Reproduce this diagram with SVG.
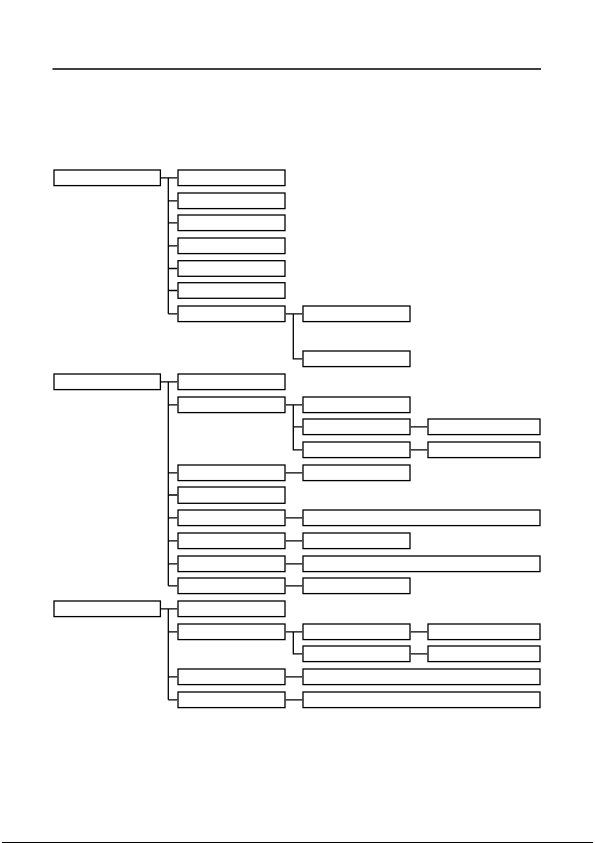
<svg xmlns="http://www.w3.org/2000/svg" width="595" height="843" viewBox="0 0 595 843">
<style>
rect{fill:#fff;stroke:#000;stroke-width:1.3}
.c path,.rule{fill:none;stroke:#000;stroke-width:1.3}
.r{width:107px;height:15.6px}
</style>
<rect width="595" height="843" style="stroke:none;fill:#fff"/>
<line class="rule" x1="52.5" y1="69" x2="541" y2="69"/>
<line class="rule" x1="2" y1="842.5" x2="593" y2="842.5" style="stroke-width:1"/>
<g class="c">
<path d="M161 177.8H177.3M168.3 177.8V313.8M168.3 200.8H177.3M168.3 222.8H177.3M168.3 245.8H177.3M168.3 268.5H177.3M168.3 290.5H177.3M168.3 313.8H177.3"/>
<path d="M285.7 313.8H302.3M293.3 313.8V358.8H302.3"/>
<path d="M161 381.8H177.3M168.3 381.8V585.8M168.3 404.8H177.3M168.3 472.8H177.3M168.3 495H177.3M168.3 517.8H177.3M168.3 540.8H177.3M168.3 563.8H177.3M168.3 585.8H177.3"/>
<path d="M285.7 404.8H302.3M293.3 404.8V450.5M293.3 426.8H302.3M293.3 449.8H302.3M410.7 426.8H427.3M410.7 449.8H427.3"/>
<path d="M285.7 472.8H302.3M285.7 517.8H302.3M285.7 540.8H302.3M285.7 563.8H302.3M285.7 585.8H302.3"/>
<path d="M161 608.8H177.3M168.3 608.8V699.8M168.3 631.8H177.3M168.3 676.8H177.3M168.3 699.8H177.3"/>
<path d="M285.7 631.8H302.3M293.3 631.8V653.8H302.3M410.7 631.8H427.3M410.7 653.8H427.3M285.7 676.8H302.3M285.7 699.8H302.3"/>
</g>
<g id="root1"><rect x="54" y="170" width="106.4" height="15.6"/></g>
<g id="root2"><rect x="54" y="374" width="106.4" height="15.6"/></g>
<g id="root3"><rect x="54" y="601" width="106.4" height="15.6"/></g>
<g id="g1-l2">
<g id="n1a"><rect x="178" y="170" width="107" height="15.6"/></g>
<g id="n1b"><rect x="178" y="193" width="107" height="15.6"/></g>
<g id="n1c"><rect x="178" y="215" width="107" height="15.6"/></g>
<g id="n1d"><rect x="178" y="238" width="107" height="15.6"/></g>
<g id="n1e"><rect x="178" y="260.7" width="107" height="15.6"/></g>
<g id="n1f"><rect x="178" y="282.7" width="107" height="15.6"/></g>
<g id="n1g"><rect x="178" y="306" width="107" height="15.6"/></g>
<g id="n1g1"><rect x="303" y="306" width="107" height="15.6"/></g>
<g id="n1g2"><rect x="303" y="351" width="107" height="15.6"/></g>
</g>
<g id="g2">
<g id="n2a"><rect x="178" y="374" width="107" height="15.6"/></g>
<g id="n2b"><rect x="178" y="397" width="107" height="15.6"/></g>
<g id="n2b1"><rect x="303" y="397" width="107" height="15.6"/></g>
<g id="n2b2"><rect x="303" y="419" width="107" height="15.6"/></g>
<g id="n2b3"><rect x="303" y="442" width="107" height="15.6"/></g>
<g id="n2b2a"><rect x="428" y="419" width="112" height="15.6"/></g>
<g id="n2b3a"><rect x="428" y="442" width="112" height="15.6"/></g>
<g id="n2c"><rect x="178" y="465" width="107" height="15.6"/></g>
<g id="n2c1"><rect x="303" y="465" width="107" height="15.6"/></g>
<g id="n2d"><rect x="178" y="487" width="107" height="16.3"/></g>
<g id="n2e"><rect x="178" y="510" width="107" height="15.6"/></g>
<g id="n2e1"><rect x="303" y="510" width="237" height="15.6"/></g>
<g id="n2f"><rect x="178" y="533" width="107" height="15.6"/></g>
<g id="n2f1"><rect x="303" y="533" width="107" height="15.6"/></g>
<g id="n2g"><rect x="178" y="556" width="107" height="15.6"/></g>
<g id="n2g1"><rect x="303" y="556" width="237" height="15.6"/></g>
<g id="n2h"><rect x="178" y="578" width="107" height="15.6"/></g>
<g id="n2h1"><rect x="303" y="578" width="107" height="15.6"/></g>
</g>
<g id="g3">
<g id="n3a"><rect x="178" y="601" width="107" height="15.6"/></g>
<g id="n3b"><rect x="178" y="624" width="107" height="15.6"/></g>
<g id="n3b1"><rect x="303" y="624" width="107" height="15.6"/></g>
<g id="n3b2"><rect x="303" y="646" width="107" height="15.6"/></g>
<g id="n3b1a"><rect x="428" y="624" width="112" height="15.6"/></g>
<g id="n3b2a"><rect x="428" y="646" width="112" height="15.6"/></g>
<g id="n3c"><rect x="178" y="669" width="107" height="15.6"/></g>
<g id="n3c1"><rect x="303" y="669" width="237" height="15.6"/></g>
<g id="n3d"><rect x="178" y="692" width="107" height="15.6"/></g>
<g id="n3d1"><rect x="303" y="692" width="237" height="15.6"/></g>
</g>
</svg>
